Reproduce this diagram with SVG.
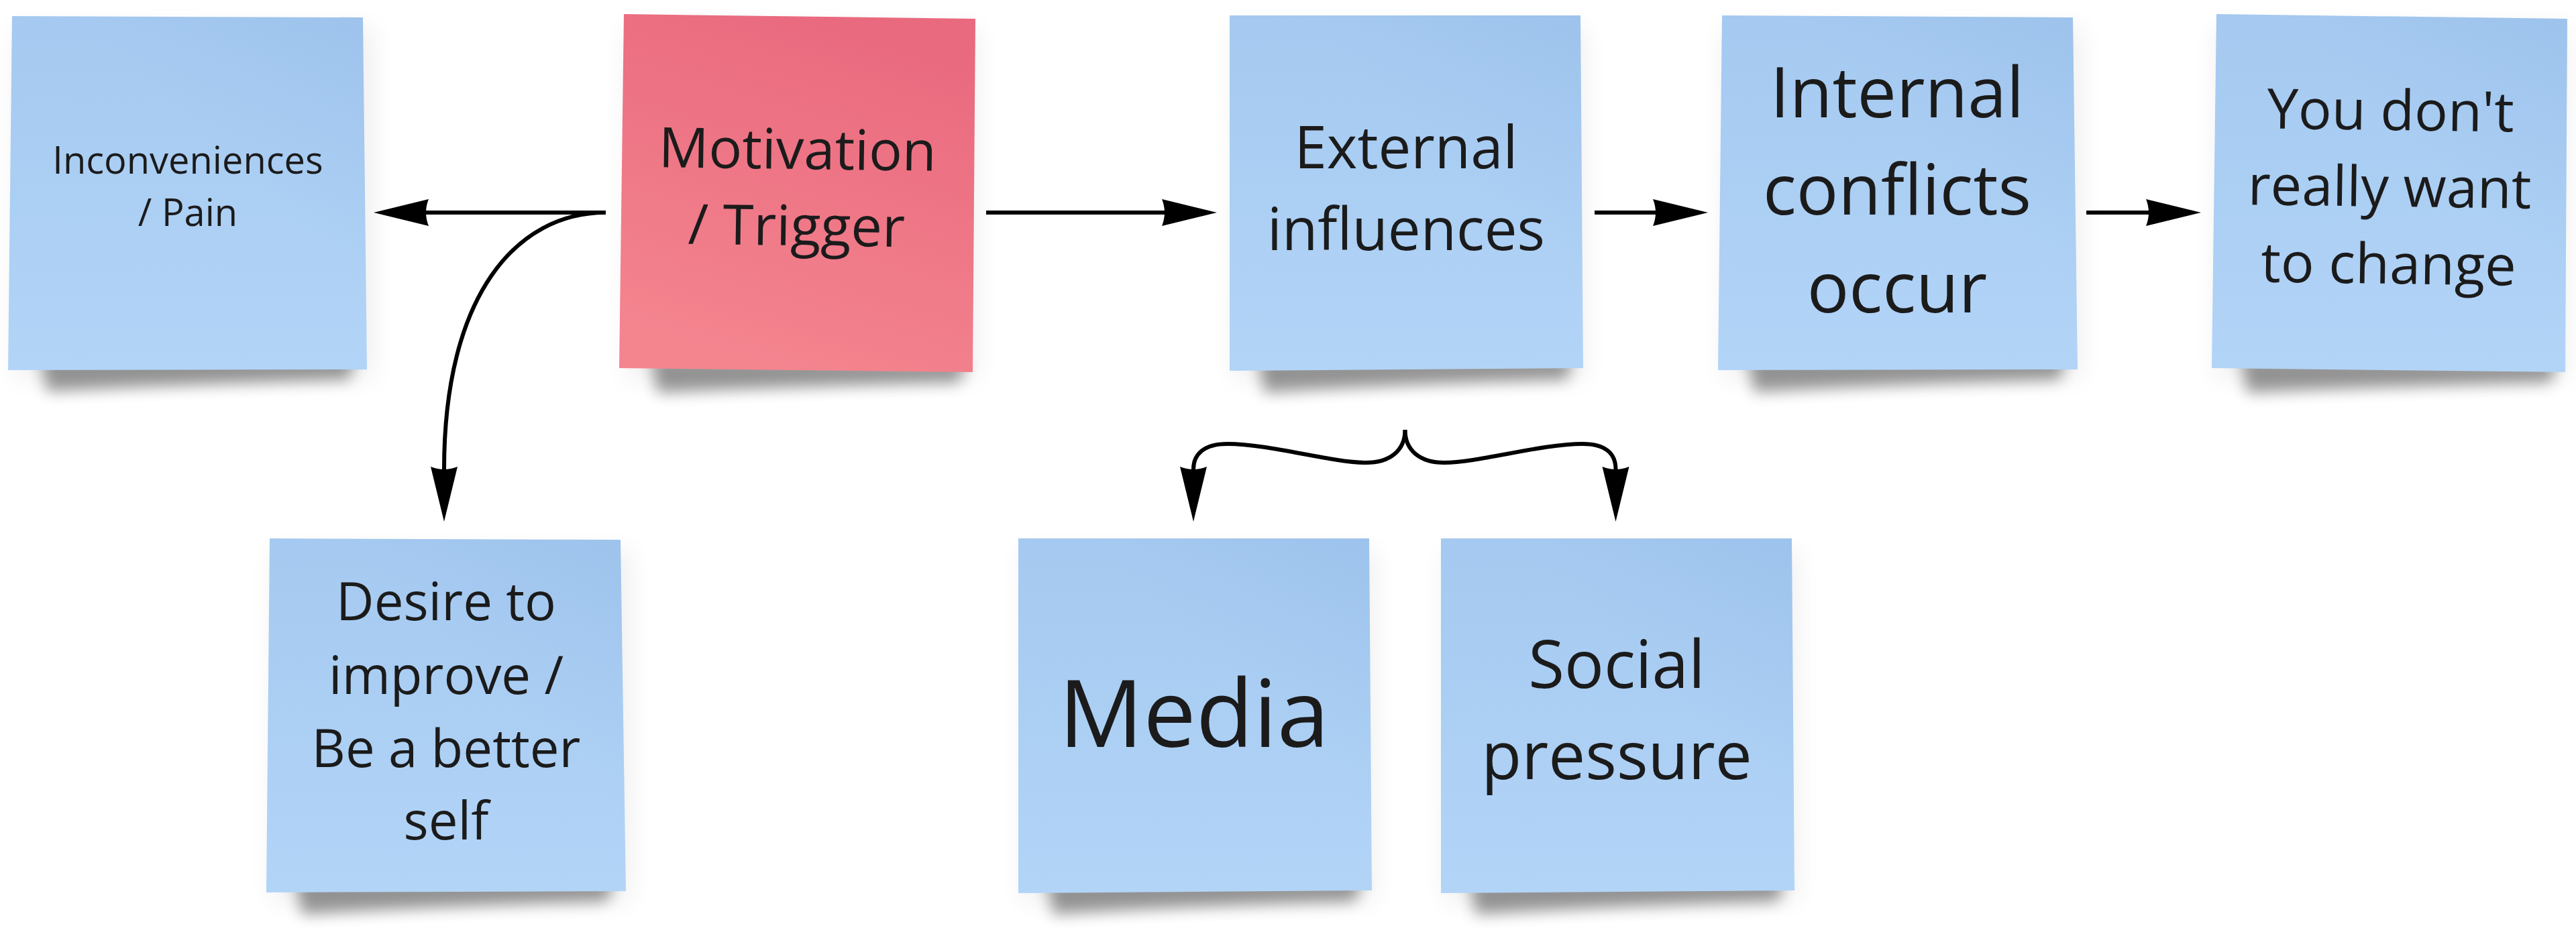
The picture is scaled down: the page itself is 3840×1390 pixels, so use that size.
<svg xmlns="http://www.w3.org/2000/svg" width="3840" height="1390" viewBox="0 0 3840 1390">
  <defs>
    <linearGradient id="blue" x1="0" y1="0" x2="0" y2="1">
      <stop offset="0" stop-color="#a5c9f0"/>
      <stop offset="1" stop-color="#b2d4f7"/>
    </linearGradient>
    <linearGradient id="pink" x1="0.65" y1="0" x2="0.35" y2="1">
      <stop offset="0" stop-color="#e9697e"/>
      <stop offset="1" stop-color="#f4858f"/>
    </linearGradient>
    <linearGradient id="fold" x1="1" y1="0" x2="0.6" y2="0.4">
      <stop offset="0" stop-color="#5a8cc8" stop-opacity="0.10"/>
      <stop offset="1" stop-color="#5a8cc8" stop-opacity="0"/>
    </linearGradient>
    <filter id="blur" x="-20%" y="-100%" width="140%" height="300%">
      <feGaussianBlur stdDeviation="11"/>
    </filter>
    <filter id="halo" x="-20%" y="-20%" width="140%" height="140%">
      <feGaussianBlur stdDeviation="18"/>
    </filter>
    <marker id="ah" viewBox="-6 -22 86 44" refX="0" refY="0" markerWidth="86" markerHeight="44" markerUnits="userSpaceOnUse" orient="auto" overflow="visible">
      <path d="M78,0 L-4,-20 Q4,0 -4,20 Z" fill="#000"/>
    </marker>
    <style>
      .t { font-family: "Open Sans", "Noto Sans", "DejaVu Sans", sans-serif; fill: #1b1b1b; text-anchor: middle; }
      .sh { fill: #000; opacity: 0.4; filter: url(#blur); }
      .halo { fill: #000; opacity: 0.06; filter: url(#halo); }
      .b { fill: url(#blue); }
      .p { fill: url(#pink); }
      .f { fill: url(#fold); }
      .c { fill: none; stroke: #000; stroke-width: 6; marker-end: url(#ah); }
    </style>
  </defs>
  <rect width="3840" height="1390" fill="#ffffff"/>

  <g id="inconveniences">
    <rect class="halo" x="22" y="40" width="535" height="525"/>
    <path class="sh" d="M60,531 L530,531 L520,566 Q300,572 70,584 Z"/>
    <polygon class="b" points="18,24 541,26 547,551 12,552"/>
    <polygon class="f" points="18,24 541,26 547,551 12,552"/>
    <text class="t" font-size="56" x="280" y="259">Inconveniences</text>
    <text class="t" font-size="56" x="280" y="337">/ Pain</text>
  </g>

  <g id="motivation">
    <rect class="halo" x="933" y="40" width="525" height="525"/>
    <path class="sh" d="M970,533 L1440,539 L1430,570 Q1200,576 980,586 Z"/>
    <polygon class="p" points="930,21 1454,28 1450,555 923,549"/>
    <g transform="rotate(0.77 1188 288)">
      <text class="t" font-size="83" x="1188" y="252">Motivation</text>
      <text class="t" font-size="83" x="1188" y="366">/ Trigger</text>
    </g>
  </g>

  <g id="external">
    <rect class="halo" x="1838" y="40" width="525" height="525"/>
    <path class="sh" d="M1875,533 L2345,533 L2335,566 Q2100,572 1885,586 Z"/>
    <polygon class="b" points="1833,23 2356,23 2360,549 1833,553"/>
    <polygon class="f" points="1833,23 2356,23 2360,549 1833,553"/>
    <text class="t" font-size="87" x="2096" y="251">External</text>
    <text class="t" font-size="87" x="2096" y="373">influences</text>
  </g>

  <g id="internal">
    <rect class="halo" x="2568" y="40" width="535" height="525"/>
    <path class="sh" d="M2605,532 L3080,532 L3070,566 Q2840,572 2615,585 Z"/>
    <polygon class="b" points="2567,23 3090,26 3097,551 2561,552"/>
    <polygon class="f" points="2567,23 3090,26 3097,551 2561,552"/>
    <text class="t" font-size="104" x="2828" y="175">Internal</text>
    <text class="t" font-size="104" x="2828" y="320">conflicts</text>
    <text class="t" font-size="104" x="2828" y="466">occur</text>
  </g>

  <g id="you-dont">
    <rect class="halo" x="3303" y="40" width="525" height="525"/>
    <path class="sh" d="M3340,533 L3812,539 L3802,570 Q3570,576 3350,586 Z"/>
    <polygon class="b" points="3304,21 3827,28 3824,555 3297,549"/>
    <polygon class="f" points="3304,21 3827,28 3824,555 3297,549"/>
    <g transform="rotate(0.77 3562 288)">
      <text class="t" font-size="83" x="3562" y="194">You don't</text>
      <text class="t" font-size="83" x="3562" y="308">really want</text>
      <text class="t" font-size="83" x="3562" y="423">to change</text>
    </g>
  </g>

  <g id="desire">
    <rect class="halo" x="405" y="820" width="535" height="525"/>
    <path class="sh" d="M440,1310 L915,1310 L905,1344 Q680,1350 450,1364 Z"/>
    <polygon class="b" points="402,803 925,805 933,1329 397,1331"/>
    <polygon class="f" points="402,803 925,805 933,1329 397,1331"/>
    <text class="t" font-size="78" x="665" y="925">Desire to</text>
    <text class="t" font-size="78" x="665" y="1035">improve /</text>
    <text class="t" font-size="78" x="665" y="1144">Be a better</text>
    <text class="t" font-size="78" x="665" y="1252">self</text>
  </g>

  <g id="media">
    <rect class="halo" x="1523" y="820" width="527" height="525"/>
    <path class="sh" d="M1560,1310 L2030,1310 L2020,1344 Q1790,1350 1570,1364 Z"/>
    <polygon class="b" points="1518,803 2041,803 2045,1328 1518,1332"/>
    <polygon class="f" points="1518,803 2041,803 2045,1328 1518,1332"/>
    <text class="t" font-size="140" x="1780" y="1114">Media</text>
  </g>

  <g id="social-pressure">
    <rect class="halo" x="2153" y="820" width="527" height="525"/>
    <path class="sh" d="M2190,1310 L2660,1310 L2650,1344 Q2420,1350 2200,1364 Z"/>
    <polygon class="b" points="2148,803 2671,803 2675,1328 2148,1332"/>
    <polygon class="f" points="2148,803 2671,803 2675,1328 2148,1332"/>
    <text class="t" font-size="98" x="2410" y="1026">Social</text>
    <text class="t" font-size="98" x="2410" y="1162">pressure</text>
  </g>

  <g id="connectors">
    <path class="c" d="M903,317 L635,317"/>
    <path class="c" d="M903,317 C770,317 662,440 662,700"/>
    <path class="c" d="M1470,317 L1736,317"/>
    <path class="c" d="M2377,317 L2468,317"/>
    <path class="c" d="M3110,317 L3203,317"/>
    <path class="c" d="M2094.5,641 C2094.5,672 2072,690 2036,690 C1985,690 1892,662 1830,662 C1795,662 1779,677 1779,700"/>
    <path class="c" d="M2094.5,641 C2094.5,672 2117,690 2153,690 C2204,690 2297,662 2359,662 C2394,662 2408.5,677 2408.5,700"/>
  </g>
</svg>
